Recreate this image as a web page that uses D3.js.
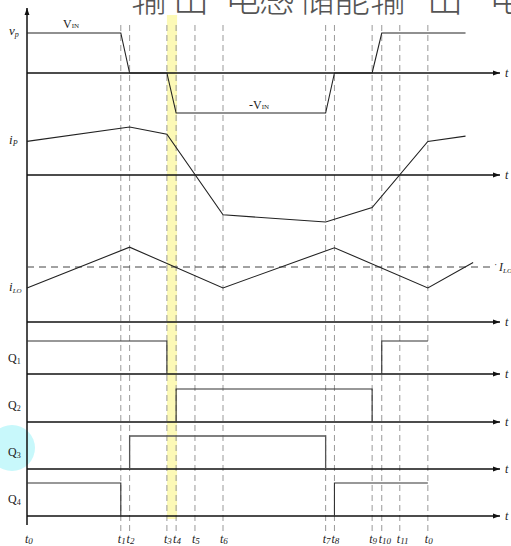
<!DOCTYPE html>
<html><head><meta charset="utf-8">
<script src="https://cdn.jsdelivr.net/npm/d3@7"></script>
<style>body{margin:0;background:#fff}svg{display:block}</style>
</head><body>
<script>
// ---- data ----
const timeNames = ["t0","t1","t2","t3","t4","t5","t6","t7","t8","t9","t10","t11","t0"];
const timeValues = [0, 2.34, 2.56, 3.49, 3.72, 4.19, 4.89, 7.45, 7.67, 8.61, 8.85, 9.30, 10];
const vpT = [0, 2.34, 2.56, 3.49, 3.72, 7.45, 7.67, 8.61, 8.85, 10.94];
const vpV = [1, 1, 0, 0, -1, -1, 0, 0, 1, 1];
const ipT = [0, 2.56, 3.49, 4.89, 7.45, 8.61, 10, 10.94];
const ipV = [0.70, 1.00, 0.85, -0.83, -0.98, -0.68, 0.70, 0.81];
const iloT = [0, 2.56, 4.89, 7.67, 10, 11.13];
const iloV = [0.62, 1.36, 0.62, 1.35, 0.62, 1.08];
const iloAvg = 1.0;
const q1T = [0, 3.49, 3.49], q1V = [1, 1, 0];
const q1bT = [8.85, 8.85, 10], q1bV = [0, 1, 1];
const q2T = [3.72, 3.72, 8.61, 8.61], q2V = [0, 1, 1, 0];
const q3T = [2.56, 2.56, 7.45, 7.45], q3V = [0, 1, 1, 0];
const q4T = [0, 2.34, 2.34], q4V = [1, 1, 0];
const q4bT = [7.67, 7.67, 10], q4bV = [0, 1, 1];
const titleChars = ["输", "出", "电", "感", "储", "能", "输", "出", "电"];

const W = 511, H = 546;
const svg = d3.select("body").append("svg").attr("width", W).attr("height", H);
const x = d3.scaleLinear().domain([0, 11.8]).range([27, 500]);

// highlight & circle
svg.append("rect").attr("x", x(timeValues[3])).attr("y", 15)
  .attr("width", x(timeValues[4]) - x(timeValues[3]) + 1).attr("height", 504)
  .attr("fill", "#fcf9b6");
svg.append("circle").attr("cx", 12).attr("cy", 448).attr("r", 23).attr("fill", "#c8f8fb");

// title (cut off at top, as in the reference)
const titleX = [131, 173, 225, 259, 299, 334, 370, 427, 489];
titleChars.forEach((s, i) => {
  svg.append("text").attr("x", titleX[i]).attr("y", 12).text(s)
    .attr("font-family", "Noto Sans CJK SC").attr("font-size", 36)
    .attr("fill", "#555").attr("font-weight", 300);
});

// dashed time lines
timeValues.slice(1).forEach(t => {
  svg.append("line").attr("x1", x(t)).attr("x2", x(t)).attr("y1", 25).attr("y2", 532)
    .attr("stroke", "#999").attr("stroke-width", 1).attr("stroke-dasharray", "6,4");
});

// arrow marker
const defs = svg.append("defs");
defs.append("marker").attr("id", "arr").attr("viewBox", "0 0 10 10").attr("refX", 10).attr("refY", 5)
  .attr("markerWidth", 7).attr("markerHeight", 7).attr("markerUnits", "userSpaceOnUse").attr("orient", "auto")
  .append("path").attr("d", "M0,1.5 L10,5 L0,8.5 Z").attr("fill", "#111");

// vertical axis
svg.append("line").attr("x1", 27).attr("x2", 27).attr("y1", 525).attr("y2", 8)
  .attr("stroke", "#111").attr("stroke-width", 1.5).attr("marker-end", "url(#arr)");

const serif = "Liberation Serif";
const baselines = [73, 175, 322, 374, 422, 469, 516];
baselines.forEach(b => {
  svg.append("line").attr("x1", 27).attr("x2", 500).attr("y1", b).attr("y2", b)
    .attr("stroke", "#111").attr("stroke-width", 1.3).attr("marker-end", "url(#arr)");
  svg.append("text").attr("x", 505).attr("y", b + 4).text("t")
    .attr("font-family", serif).attr("font-style", "italic").attr("font-size", 12).attr("fill", "#222");
});

function wave(T, V, y, color, width) {
  const line = d3.line().x((d, i) => x(T[i])).y((d, i) => y(V[i]));
  svg.append("path").attr("d", line(T)).attr("fill", "none")
    .attr("stroke", color || "#222").attr("stroke-width", width || 1.1);
}

const yVp = d3.scaleLinear().domain([-1, 1]).range([113, 33]);
const yIp = d3.scaleLinear().domain([-1, 1]).range([223, 127]);
const yIlo = d3.scaleLinear().domain([0, 1.4]).range([322, 245]);
const qScale = b => d3.scaleLinear().domain([0, 1]).range([b, b - 33]);

wave(vpT, vpV, yVp);
wave(ipT, ipV, yIp);
svg.append("line").attr("x1", 27).attr("x2", 493).attr("y1", yIlo(iloAvg)).attr("y2", yIlo(iloAvg))
  .attr("stroke", "#444").attr("stroke-width", 1).attr("stroke-dasharray", "7,5");
wave(iloT, iloV, yIlo);
wave(q1T, q1V, qScale(374), "#333");
wave(q1bT, q1bV, qScale(374), "#333");
wave(q2T, q2V, qScale(422), "#333");
wave(q3T, q3V, qScale(469), "#555", 1.3);
wave(q4T, q4V, qScale(516), "#333");
wave(q4bT, q4bV, qScale(516), "#333");

function label(xp, yp, main, sub, opts) {
  opts = opts || {};
  const t = svg.append("text").attr("x", xp).attr("y", yp)
    .attr("font-family", serif).attr("font-size", opts.size || 12).attr("fill", "#222")
    .attr("text-anchor", opts.anchor || "start");
  t.append("tspan").text(main).attr("font-style", opts.italic ? "italic" : "normal");
  if (sub) t.append("tspan").text(sub).attr("font-size", opts.subSize || 8)
    .attr("dy", opts.subDy == null ? 2 : opts.subDy).attr("font-style", opts.subItalic ? "italic" : "normal");
  return t;
}

label(63, 28, "V", "IN", {size: 12, subSize: 7, subDy: 0});
label(249, 109, "-V", "IN", {size: 12, subSize: 7, subDy: 0});
label(9, 35, "v", "p", {size: 13, italic: true, subItalic: true, subSize: 8});
label(9, 144, "i", "P", {size: 13, italic: true, subItalic: true, subSize: 8});
label(9, 291, "i", "LO", {size: 13, italic: true, subItalic: true, subSize: 7});
label(499, 271, "I", "LO", {size: 12, italic: true, subItalic: true, subSize: 7});
svg.append("text").attr("x", 494).attr("y", 268).text("·").attr("font-size", 10).attr("fill", "#444");
label(8, 362, "Q", "1", {size: 12, subSize: 8});
label(8, 409, "Q", "2", {size: 12, subSize: 8});
label(8, 456, "Q", "3", {size: 12, subSize: 8});
label(8, 503, "Q", "4", {size: 12, subSize: 8});

timeNames.forEach((n, i) => {
  label(x(timeValues[i]) + (i === 0 ? -2 : -3), 543, "t", n.slice(1),
    {size: 12, italic: true, subItalic: true, subSize: 9, subDy: 1});
});
</script>
</body></html>
